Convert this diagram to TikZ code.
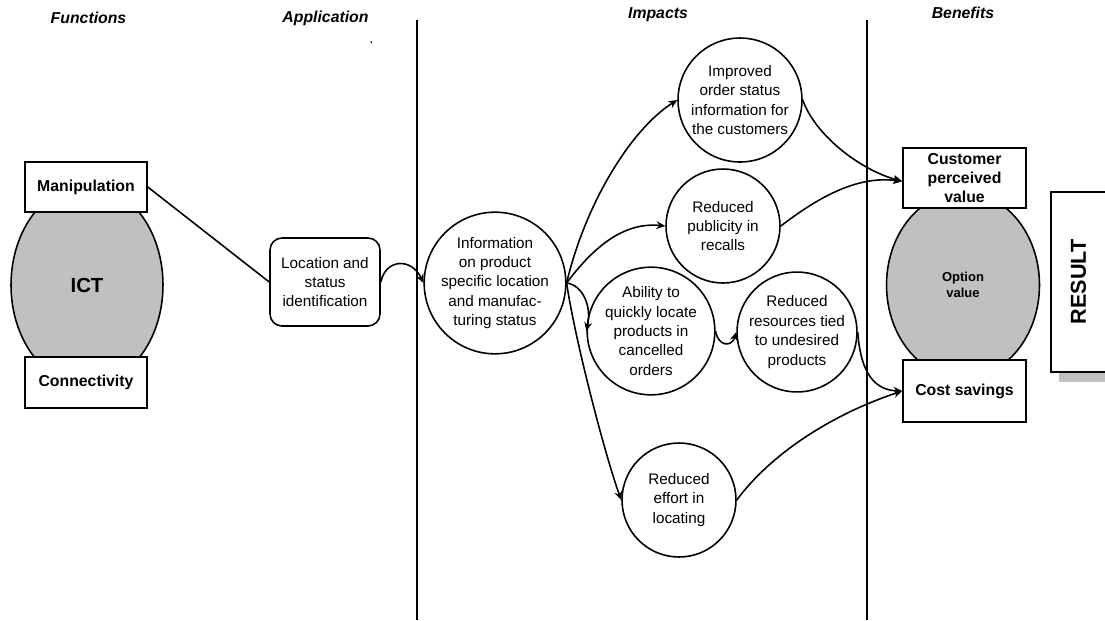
\documentclass[tikz,border=0pt]{standalone}
\usepackage{fontspec}
\setmainfont{Liberation Sans}
\usetikzlibrary{shapes.geometric,arrows.meta}
\definecolor{panelgray}{RGB}{192,192,192}
\begin{document}
\begin{tikzpicture}[x=0.02cm,y=-0.02cm,
  line width=0.9pt,
  >={Stealth[length=5pt,width=4.5pt]},
  header/.style={font=\fontsize{9}{11}\selectfont\bfseries\itshape},
  txt/.style={font=\fontsize{8.7}{11.05}\selectfont, align=center},
  boldtxt/.style={font=\fontsize{9}{10.8}\selectfont\bfseries, align=center},
  bubble/.style={circle, draw, fill=white, inner sep=0pt, txt},
  funcbox/.style={rectangle, draw, fill=white, inner sep=0pt, minimum width=2.44cm, boldtxt},
  blob/.style={ellipse, draw, fill=panelgray, inner sep=0pt, align=center},
  link/.style={->},
]
\useasboundingbox (0,0) rectangle (1105,620);
\clip (0,0) rectangle (1105,620);

% column headings
\node[header] (hfun) at (88.5,18) {Functions};
\node[header] (happ) at (325.5,18) {Application};
\node[header] (himp) at (658,15) {Impacts};
\node[header] (hben) at (963,13) {Benefits};
\node[txt, anchor=base] (dot) at (371.5,43) {.};

% column dividers
\draw (417,20) -- (417,620);
\draw (867,20) -- (867,620);

% functions
\node[blob, minimum width=3.04cm, minimum height=4cm,
      font=\fontsize{11.6}{13}\selectfont\bfseries] (ict) at (87,285) {ICT};
\node[funcbox, minimum height=1.0cm] (manip) at (86,187) {Manipulation};
\node[funcbox, minimum height=1.02cm] (conn) at (86,382.5) {Connectivity};

% application
\node[draw, fill=white, rounded corners=0.24cm, minimum width=2.2cm,
      minimum height=1.76cm, inner sep=0pt, txt] (loc) at (325,282)
      {Location and\\status\\identification};

% impacts
\node[bubble, minimum size=2.66cm] (info) at (495,283)
      {Information\\on product\\specific location\\and manufac-\\turing status};
\node[bubble, minimum size=2.48cm] (impr) at (740,100)
      {Improved\\order status\\information for\\the customers};
\node[bubble, minimum size=2.28cm] (publ) at (723,226)
      {Reduced\\publicity in\\recalls};
\node[bubble, minimum size=2.24cm] (abil) at (651,331)
      {Ability to\\quickly locate\\products in\\cancelled\\orders};
\node[bubble, minimum size=2.26cm] (resr) at (797,332)
      {Reduced\\resources tied\\to undesired\\products};
\node[bubble, minimum size=2.28cm] (effort) at (679,500)
      {Reduced\\effort in\\locating};

% benefits
\node[blob, minimum width=3.06cm, minimum height=3.72cm,
      font=\fontsize{7.4}{9.1}\selectfont\bfseries] (opt) at (963,285) {Option\\value};
\node[funcbox, minimum width=2.46cm, minimum height=1.2cm] (cust) at (964.5,178)
      {Customer\\perceived\\value};
\node[funcbox, minimum width=2.46cm, minimum height=1.24cm] (cost) at (964.5,391)
      {Cost savings};

% result panel with its drop shadow
\fill[panelgray] (1059,202) rectangle (1115,382);
\node[draw, fill=white, rotate=90, minimum width=3.6cm, minimum height=1.1cm,
      inner sep=0pt, font=\fontsize{12.3}{14}\selectfont\bfseries] (result)
      at (1078.5,282) {RESULT};

% connectors
\draw (manip.east) -- (loc.west);
\draw[link] (loc.east) .. controls (386,258) and (412,258) .. (info.west);
\draw[link] (info.east) .. controls (585,205) and (630,130) .. (impr.west);
\draw[link] (info.east) .. controls (595,245) and (625,222) .. (publ.west);
\draw[link] (info.east) .. controls (582,285) and (592,305) .. (abil.west);
\draw[link] (info.east) .. controls (575,340) and (605,455) .. (effort.west);
\draw[link] (abil.east) .. controls (718,347) and (732,347) .. (resr.west);
\draw[link] (impr.east) .. controls (815,135) and (860,170) .. (cust.183);
\draw[link] (publ.east) .. controls (815,200) and (855,175) .. (cust.183);
\draw[link] (resr.east) .. controls (860,365) and (870,390) .. (cost.west);
\draw[link] (effort.east) .. controls (770,455) and (830,415) .. (cost.west);
\end{tikzpicture}
\end{document}
